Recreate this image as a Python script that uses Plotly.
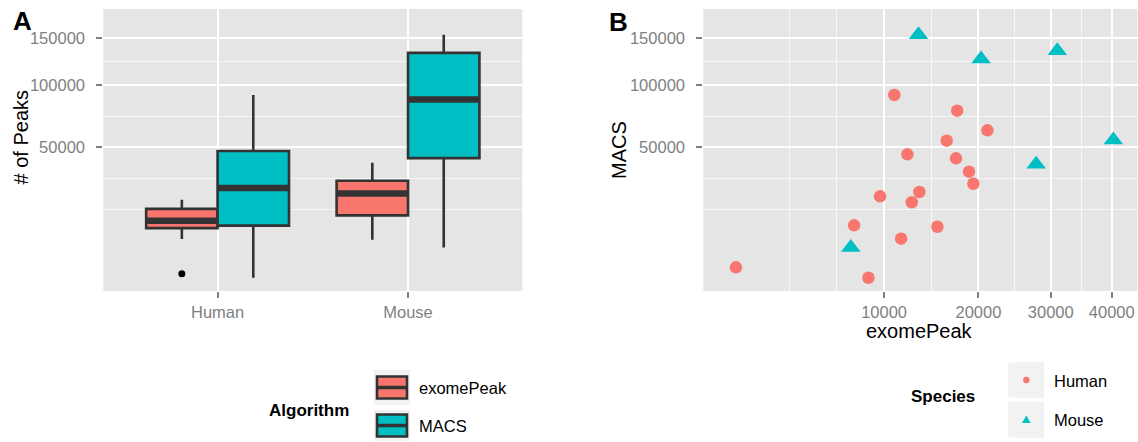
import numpy as np
import plotly.graph_objects as go

# ---------------- data ----------------
species = ["Human", "Mouse"]
algorithms = ["exomePeak", "MACS"]

human_exomepeak = [1220, 8670, 7540, 11550, 9650, 12580, 13340, 15230,
                   12150, 10920, 16260, 17450, 17320, 21140, 18850, 19380]
human_macs = [1970, 830, 11470, 7590, 22620, 20020, 24590, 11030,
              45420, 91030, 54520, 77450, 42930, 62000, 35040, 28630]
mouse_exomepeak = [13250, 20330, 31010, 40280, 27820, 7290]
mouse_macs = [153350, 126500, 135200, 55080, 39320, 5460]

peak_ticks = [50000, 100000, 150000]
peak_tick_labels = ["50000", "100000", "150000"]
exome_ticks = [10000, 20000, 30000, 40000]
exome_tick_labels = ["10000", "20000", "30000", "40000"]

# ---------------- styling ----------------
W, H = 1138, 442
RED, CYAN = "#F8766D", "#00BFC4"
DARK = "#333333"
PANEL_BG = "#E5E5E5"
TICK_GREY = "#7F7F7F"
FONT = "Liberation Sans, Arial, sans-serif"

# panel pixel boxes (left, top, right, bottom)
PA = (103.3, 9.0, 522.3, 291.0)
PB = (703.3, 9.0, 1137.5, 291.0)

def xdom(p):
    return [p[0] / W, p[2] / W]

def ydom(p):
    return [1 - p[3] / H, 1 - p[1] / H]

def px(x):
    return x / W

def py(y):
    return 1 - y / H

sqrt = np.sqrt

def box_stats(vals):
    s = sqrt(np.asarray(vals, float))
    q1, med, q3 = np.percentile(s, [25, 50, 75])
    iqr = q3 - q1
    lo_lim, hi_lim = q1 - 1.5 * iqr, q3 + 1.5 * iqr
    inside = s[(s >= lo_lim) & (s <= hi_lim)]
    out = s[(s < lo_lim) | (s > hi_lim)]
    return dict(q1=q1, med=med, q3=q3, lo=inside.min(), hi=inside.max(), out=out)

def minor_breaks(major_s, lo, hi):
    b = list(major_s)
    bd = b[1] - b[0]
    if lo < b[0]:
        b = [b[0] - bd] + b
    if hi > b[-1]:
        b = b + [b[-1] + bd]
    out = []
    for a, c in zip(b[:-1], b[1:]):
        out += [a, (a + c) / 2]
    out.append(b[-1])
    return [v for v in out if lo <= v <= hi and min(abs(v - m) for m in major_s) > 1e-6]

y_range = [9.0, 430.2]          # sqrt scale
xb_range = [20.6, 211.3]        # sqrt scale

fig = go.Figure()

# ---------------- panel A: boxplots ----------------
data_by = {
    "exomePeak": [human_exomepeak, mouse_exomepeak],
    "MACS": [human_macs, mouse_macs],
}
colors = {"exomePeak": RED, "MACS": CYAN}
bw = 0.375
offsets = {"exomePeak": -bw / 2, "MACS": bw / 2}

for alg in algorithms:
    stats = [box_stats(v) for v in data_by[alg]]
    pos = [i + 1 + offsets[alg] for i in range(len(species))]
    fig.add_trace(go.Box(
        x=pos,
        q1=[s["q1"] for s in stats], median=[s["med"] for s in stats],
        q3=[s["q3"] for s in stats],
        lowerfence=[s["lo"] for s in stats], upperfence=[s["hi"] for s in stats],
        width=bw, fillcolor=colors[alg], line=dict(color=DARK, width=2.6),
        whiskerwidth=0, boxpoints=False, showlegend=False, hoverinfo="skip",
        xaxis="x", yaxis="y",
    ))
    for p, s in zip(pos, stats):
        fig.add_trace(go.Scatter(
            x=[p - bw / 2 + 0.004, p + bw / 2 - 0.004], y=[s["med"], s["med"]],
            mode="lines", line=dict(color=DARK, width=6.5),
            showlegend=False, hoverinfo="skip", xaxis="x", yaxis="y"))
        if len(s["out"]):
            fig.add_trace(go.Scatter(
                x=[p] * len(s["out"]), y=list(s["out"]), mode="markers",
                marker=dict(color="black", size=7),
                showlegend=False, hoverinfo="skip", xaxis="x", yaxis="y"))

# ---------------- panel B: scatter ----------------
fig.add_trace(go.Scatter(
    x=sqrt(human_exomepeak), y=sqrt(human_macs), mode="markers",
    marker=dict(color=RED, size=12.5, symbol="circle"),
    showlegend=False, xaxis="x2", yaxis="y2"))
fig.add_trace(go.Scatter(
    x=sqrt(mouse_exomepeak), y=sqrt(mouse_macs), mode="markers",
    marker=dict(color=CYAN, size=17, symbol="triangle-up"),
    showlegend=False, xaxis="x2", yaxis="y2"))

# ---------------- axes ----------------
common = dict(
    ticks="outside", ticklen=6, tickwidth=2.2, tickcolor=TICK_GREY,
    tickfont=dict(family=FONT, size=16.5, color=TICK_GREY),
    showgrid=True, gridcolor="white", gridwidth=2.2,
    zeroline=False, showline=False, fixedrange=True,
)
minor_style = dict(showgrid=True, gridcolor="#F7F7F7", gridwidth=1.2, ticks="")

y_major = list(sqrt(peak_ticks))
y_minor = minor_breaks(y_major, *y_range)
xb_major = list(sqrt(exome_ticks))
xb_minor = minor_breaks(xb_major, *xb_range)

fig.update_layout(
    width=W, height=H,
    margin=dict(l=0, r=0, t=0, b=0),
    paper_bgcolor="white", plot_bgcolor=PANEL_BG,
    font=dict(family=FONT),
    showlegend=False,
    xaxis=dict(domain=xdom(PA), range=[0.4, 2.6], tickmode="array",
               tickvals=[1, 2], ticktext=species, anchor="y",
               ticklabelstandoff=0, **common),
    yaxis=dict(domain=ydom(PA), range=y_range, tickmode="array",
               tickvals=y_major, ticktext=peak_tick_labels, anchor="x",
               ticklabelstandoff=8,
               minor=dict(tickmode="array", tickvals=y_minor, **minor_style),
               **common),
    xaxis2=dict(domain=xdom(PB), range=xb_range, tickmode="array",
                tickvals=xb_major, ticktext=exome_tick_labels, anchor="y2",
                ticklabelstandoff=0,
                minor=dict(tickmode="array", tickvals=xb_minor, **minor_style),
                **common),
    yaxis2=dict(domain=ydom(PB), range=y_range, tickmode="array",
                tickvals=y_major, ticktext=peak_tick_labels, anchor="x2",
                ticklabelstandoff=8,
                minor=dict(tickmode="array", tickvals=y_minor, **minor_style),
                **common),
)

# ---------------- annotations: panel letters & axis titles ----------------
def ann(text, x, y, size, color="black", xanchor="center", yanchor="middle",
        angle=0, bold=False):
    if bold:
        text = "<b>" + text + "</b>"
    fig.add_annotation(text=text, x=px(x), y=py(y), xref="paper", yref="paper",
                       showarrow=False, xanchor=xanchor, yanchor=yanchor,
                       textangle=angle,
                       font=dict(family=FONT, size=size, color=color))

ann("A", 22, 21, 26, bold=True)
ann("B", 618, 22, 26, bold=True)
ann("# of Peaks", 20, 137.5, 20, angle=-90)
ann("MACS", 619, 150, 20, angle=-90)
ann("exomePeak", 919.7, 331, 20)

# ---------------- legends (drawn as annotations + shapes) ----------------
def rect(x0, y0, x1, y1, fill, line_color=None, line_width=0):
    fig.add_shape(type="rect", xref="paper", yref="paper",
                  x0=px(x0), x1=px(x1), y0=py(y1), y1=py(y0),
                  fillcolor=fill, line=dict(color=line_color or fill, width=line_width),
                  layer="above")

# Algorithm legend
ann("Algorithm", 266.7, 410, 17, xanchor="left", bold=True)
key_rows = [(370, 405, RED, "exomePeak"), (410, 441, CYAN, "MACS")]
for top, bot, col, lab in key_rows:
    rect(374, top, 410, bot, "#F2F2F2")
    cy = (top + bot) / 2
    rect(377, cy - 11, 407, cy + 11, col, DARK, 2.6)
    fig.add_shape(type="line", xref="paper", yref="paper",
                  x0=px(377), x1=px(407), y0=py(cy), y1=py(cy),
                  line=dict(color=DARK, width=3.5), layer="above")
    ann(lab, 416.7, cy, 16.5, xanchor="left")

# Species legend
ann("Species", 909.3, 396.7, 17, xanchor="left", bold=True)
sp_rows = [(362.3, 397.7, "Human"), (401.7, 437.7, "Mouse")]
for top, bot, lab in sp_rows:
    rect(1008.3, top, 1044.3, bot, "#F2F2F2")
    ann(lab, 1051.7, (top + bot) / 2 + 0.5, 16.5, xanchor="left")
cx, cy = 1026.3, 380.0
fig.add_shape(type="circle", xref="paper", yref="paper",
              x0=px(cx - 3.2), x1=px(cx + 3.2), y0=py(cy + 3.2), y1=py(cy - 3.2),
              fillcolor=RED, line=dict(width=0), layer="above")
ty = 420.0
path = "M {:.5f},{:.5f} L {:.5f},{:.5f} L {:.5f},{:.5f} Z".format(
    px(cx - 4.3), py(ty + 3.0), px(cx + 4.3), py(ty + 3.0), px(cx), py(ty - 4.5))
fig.add_shape(type="path", xref="paper", yref="paper", path=path,
              fillcolor=CYAN, line=dict(width=0), layer="above")

fig.write_html("out.html", config={"displayModeBar": False},
               post_script="document.body.style.margin='0px';")
